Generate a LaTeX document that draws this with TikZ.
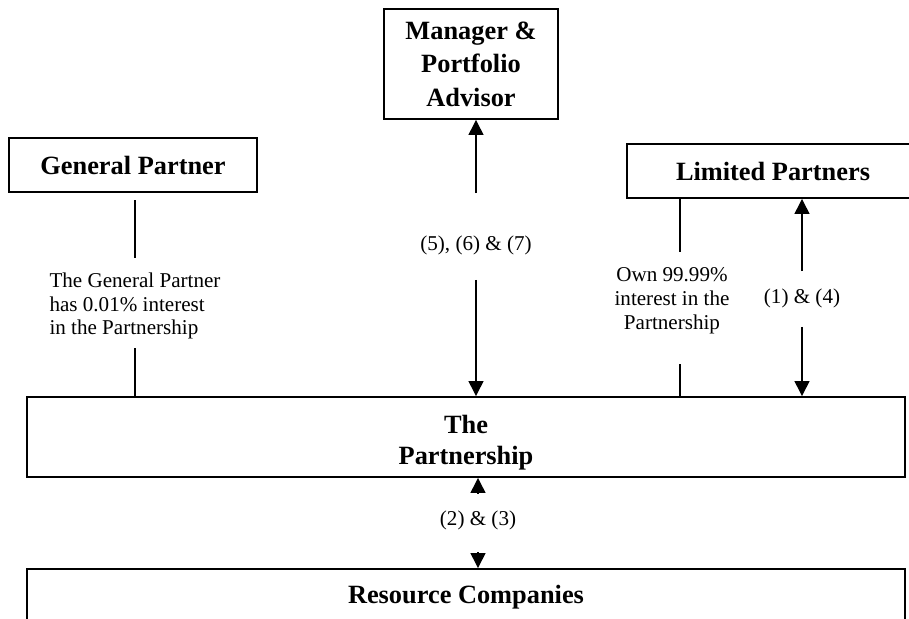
\documentclass[tikz,border=0pt]{standalone}
\usepackage{fontspec}
\setmainfont{Liberation Serif}
\usetikzlibrary{arrows.meta}

\begin{document}
\begin{tikzpicture}[>={Triangle[length=0.3cm,width=0.3cm]},
  box/.style={draw, line width=1.1pt, align=center, inner sep=0pt,
    font=\fontsize{15}{18}\selectfont\bfseries},
  lbl/.style={inner sep=0pt, font=\fontsize{12}{13.6}\selectfont},
  link/.style={line width=0.8pt}]

  % 画布范围
  \useasboundingbox (0,0) rectangle (18.18,-12.38);

  % 各方框
  \node[box, minimum width=3.48cm, minimum height=2.2cm,
    font=\fontsize{15}{19}\selectfont\bfseries] (mgr) at (9.42,-1.28)
    {Manager \&\\Portfolio\\Advisor};
  \node[box, minimum width=4.96cm, minimum height=1.08cm] (gp) at (2.66,-3.30)
    {General Partner};
  \node[box, minimum width=5.84cm, minimum height=1.08cm] (lp) at (15.46,-3.42)
    {Limited Partners};
  \node[box, minimum width=17.56cm, minimum height=1.6cm] (part) at (9.32,-8.74)
    {\rule{0pt}{17pt}The\\Partnership};
  \node[box, minimum width=17.56cm, minimum height=1.12cm] (rc) at (9.32,-11.94)
    {Resource Companies};

  % 文字标注
  \node[lbl] (l567) at (9.52,-4.90) {(5), (6) \& (7)};
  \node[lbl, align=left] (gptxt) at (2.70,-6.12)
    {The General Partner\\has 0.01\% interest\\in the Partnership};
  \node[lbl, align=center] (lptxt) at (13.44,-6.02)
    {Own 99.99\%\\interest in the\\Partnership};
  \node[lbl] (l14) at (16.04,-5.96) {(1) \& (4)};
  \node[lbl] (l23) at (9.56,-10.40) {(2) \& (3)};

  % 持股连线
  \draw[link, shorten <=0.29cm, shorten >=0.14cm] (gptxt) -- (gptxt |- gp.south);
  \draw[link, shorten <=0.17cm] (gptxt) -- (gptxt |- part.north);
  \draw[link, shorten <=0.31cm] ([xshift=0.16cm]lptxt.north) -- ([xshift=0.16cm]lptxt.north |- lp.south);
  \draw[link, shorten <=0.59cm] ([xshift=0.16cm]lptxt.south) -- ([xshift=0.16cm]lptxt.south |- part.north);

  % 双向箭头
  \draw[link, ->, shorten <=0.84cm] (l567) -- (l567 |- mgr.south);
  \draw[link, ->, shorten <=0.5cm] (l567) -- (l567 |- part.north);
  \draw[link, ->, shorten <=0.34cm] (l14) -- (l14 |- lp.south);
  \draw[link, ->, shorten <=0.38cm] (l14) -- (l14 |- part.north);
  \draw[link, ->, shorten <=0.35cm] (l23) -- (l23 |- part.south);
  \draw[link, ->, shorten <=0.45cm] (l23) -- (l23 |- rc.north);

\end{tikzpicture}
\end{document}
